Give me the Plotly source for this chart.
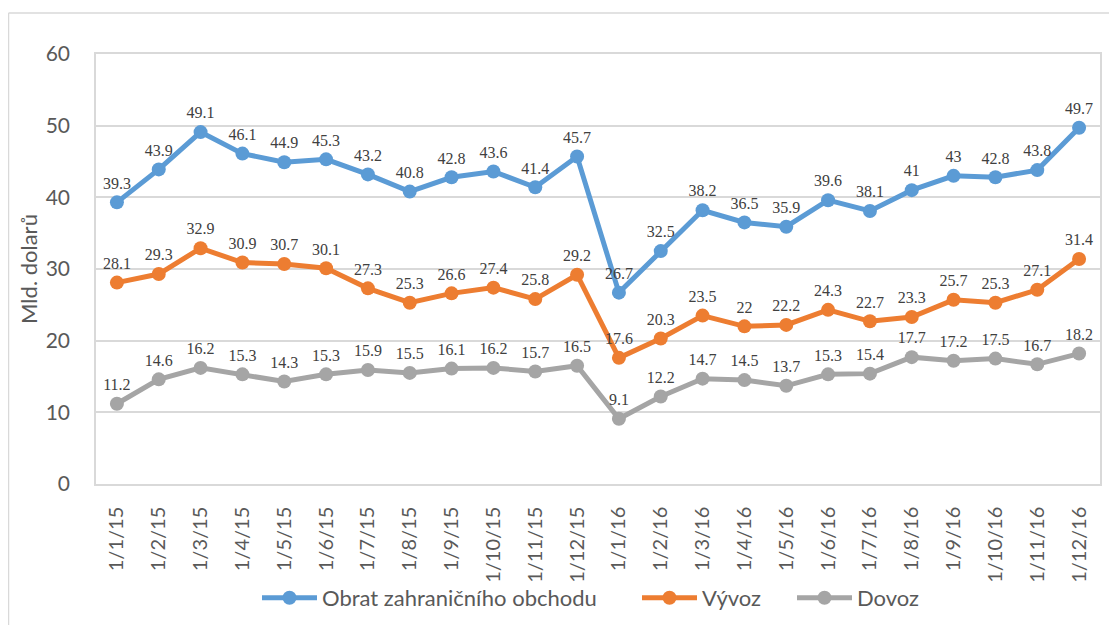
import plotly.graph_objects as go

months = ["1/1/15", "1/2/15", "1/3/15", "1/4/15", "1/5/15", "1/6/15", "1/7/15", "1/8/15",
          "1/9/15", "1/10/15", "1/11/15", "1/12/15", "1/1/16", "1/2/16", "1/3/16", "1/4/16",
          "1/5/16", "1/6/16", "1/7/16", "1/8/16", "1/9/16", "1/10/16", "1/11/16", "1/12/16"]
obrat = [39.3, 43.9, 49.1, 46.1, 44.9, 45.3, 43.2, 40.8, 42.8, 43.6, 41.4, 45.7,
         26.7, 32.5, 38.2, 36.5, 35.9, 39.6, 38.1, 41, 43, 42.8, 43.8, 49.7]
vyvoz = [28.1, 29.3, 32.9, 30.9, 30.7, 30.1, 27.3, 25.3, 26.6, 27.4, 25.8, 29.2,
         17.6, 20.3, 23.5, 22, 22.2, 24.3, 22.7, 23.3, 25.7, 25.3, 27.1, 31.4]
dovoz = [11.2, 14.6, 16.2, 15.3, 14.3, 15.3, 15.9, 15.5, 16.1, 16.2, 15.7, 16.5,
         9.1, 12.2, 14.7, 14.5, 13.7, 15.3, 15.4, 17.7, 17.2, 17.5, 16.7, 18.2]

# figure size (page has an 8px body margin)
W, H = 1109, 617
L, R, T, B = 88, 17, 46, 141

series = [
    ("Obrat zahraničního obchodu", obrat, "#5B9BD5", "legend", 249),
    ("Vývoz", vyvoz, "#ED7D31", "legend2", 629),
    ("Dovoz", dovoz, "#A5A5A5", "legend3", 784),
]

fig = go.Figure()
for name, vals, color, leg, _ in series:
    fig.add_trace(go.Scatter(
        x=months, y=vals, name=name, mode="lines+markers+text", legend=leg,
        line=dict(color=color, width=5),
        marker=dict(color=color, size=14),
        text=[f"{v:g}" for v in vals],
        textposition="top center",
        textfont=dict(family="Liberation Serif", size=16, color="#404040"),
        cliponaxis=False,
    ))

pw, ph = W - L - R, H - T - B

def px_x(p):
    return (p - L) / pw

def px_y(p):
    return (H - B - p) / ph

# light frame of the chart area (top and left edges visible)
fig.add_shape(type="line", xref="paper", yref="paper",
              x0=px_x(0.5), x1=px_x(W), y0=px_y(5), y1=px_y(5),
              line=dict(color="#D9D9D9", width=1.5))
fig.add_shape(type="line", xref="paper", yref="paper",
              x0=px_x(0.5), x1=px_x(0.5), y0=px_y(5), y1=px_y(H),
              line=dict(color="#D9D9D9", width=1.5))

legends = {}
for _, _, _, leg, xpos in series:
    legends[leg] = dict(orientation="h", xref="container", x=xpos / W, xanchor="left",
                        yref="container", y=(H - 590) / H, yanchor="middle",
                        font=dict(size=22, color="#595959"), itemwidth=55,
                        bgcolor="rgba(0,0,0,0)")

fig.update_layout(
    width=W, height=H,
    margin=dict(l=L, r=R, t=T, b=B),
    plot_bgcolor="white", paper_bgcolor="white",
    font=dict(family="Lato", color="#595959", size=20),
    showlegend=True,
    **legends,
)
fig.update_xaxes(
    type="category", range=[-0.5, 23.5], tickangle=-90, automargin=False,
    showgrid=False, showline=True, linecolor="#D9D9D9", linewidth=1.5, mirror=True,
    ticks="", tickfont=dict(size=20), ticklabelstandoff=13,
)
fig.update_yaxes(
    range=[0, 60], dtick=10, showgrid=True, gridcolor="#D9D9D9", gridwidth=1.5,
    showline=True, linecolor="#D9D9D9", linewidth=1.5, mirror=True, automargin=False,
    zeroline=False, tickfont=dict(size=21), ticklabelstandoff=20,
    title=dict(text="Mld. dolarů", font=dict(size=22), standoff=2),
)

fig.write_html("out.html")
